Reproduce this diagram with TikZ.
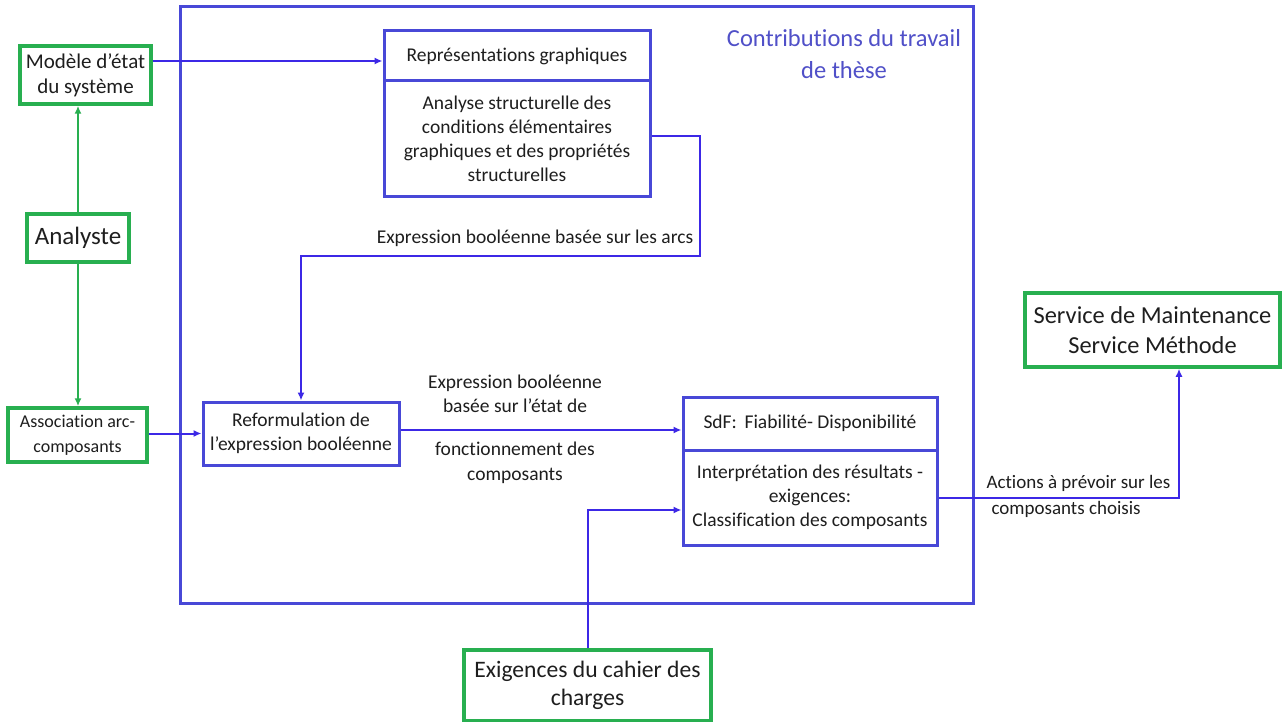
\documentclass[tikz,border=0pt]{standalone}
\usepackage{fontspec}
\setmainfont{Carlito}[Ligatures={NoCommon}]
\usetikzlibrary{arrows.meta,calc}
\definecolor{bblue}{RGB}{72,72,215}
\definecolor{lblue}{RGB}{60,40,230}
\definecolor{tblue}{RGB}{80,80,200}
\definecolor{ggreen}{RGB}{40,175,80}
\definecolor{txt}{RGB}{30,30,30}
\tikzset{
  bbox/.style={draw=bblue,line width=3pt,inner sep=2pt,align=center,text=txt,font=\fontsize{19.5}{24}\selectfont},
  gbox/.style={draw=ggreen,line width=3.5pt,inner sep=2pt,align=center,text=txt},
  conn/.style={draw=lblue,line width=2pt},
  barrow/.style={conn,-{Latex[length=8pt,width=7pt]}},
  garrow/.style={draw=ggreen,line width=2pt,-{Latex[length=8pt,width=7pt]}},
  lbl/.style={text=txt,align=center,font=\fontsize{19.5}{24.5}\selectfont},
  slbl/.style={text=txt,align=left,font=\fontsize{19}{27}\selectfont,anchor=west}
}
\begin{document}
\begin{tikzpicture}[x=1pt,y=-1pt]
\useasboundingbox (0,0) rectangle (1283,722);
\fill[white] (0,0) rectangle (1283,722);
% outer frame
\draw[bblue,line width=3pt] (180,7) rectangle (973,603);
\node[text=tblue,align=center,font=\fontsize{24.5}{32}\selectfont] (contrib) at (844,54) {Contributions du travail\\de thèse};
% green boxes
\node[gbox,minimum width=131,minimum height=58,font=\fontsize{21}{25}\selectfont] (modele) at (85.5,75) {Modèle d’état\\du système};
\node[gbox,minimum width=102,minimum height=48,font=\fontsize{25}{28}\selectfont] (analyste) at (78,238) {Analyste};
\node[gbox,minimum width=139,minimum height=54,font=\fontsize{18}{25}\selectfont] (assoc) at (77.5,435) {Association arc-\\composants};
\node[gbox,minimum width=255,minimum height=74,font=\fontsize{24.4}{30}\selectfont] (service) at (1152.5,330) {Service de Maintenance\\Service Méthode};
\node[gbox,minimum width=247,minimum height=71,font=\fontsize{23.6}{28}\selectfont] (exig) at (587.5,685.5) {Exigences du cahier des\\charges};
% blue boxes
\node[bbox,minimum width=266,minimum height=50] (repr) at (517,56) {Représentations graphiques};
\node[bbox,minimum width=266,minimum height=116] (reprb) at (517,139) {Analyse structurelle des\\conditions élémentaires\\graphiques et des propriétés\\structurelles};
\node[bbox,minimum width=196,minimum height=63] (reform) at (301,433.5) {Reformulation de\\l’expression booléenne};
\node[bbox,minimum width=254,minimum height=53] (sdf) at (810,423.5) {SdF:\, Fiabilité- Disponibilité};
\node[bbox,minimum width=254,minimum height=95] (sdfb) at (810,497.5) {Interprétation des résultats -\\exigences:\\Classification des composants};
% labels
\node[lbl] (l1) at (535,238) {Expression booléenne basée sur les arcs};
\node[lbl] (l2) at (515,394) {Expression booléenne\\basée sur l’état de};
\node[lbl] (l3) at (515,463) {fonctionnement des\\composants};
\node[slbl] (l4) at (983,483) {Actions à prévoir sur les};
\node[slbl] (l5) at (988,509) {composants choisis};
% connectors
\coordinate (c1) at (700,256);
\coordinate (c2) at (1179,498);
\coordinate (c3) at (586,510);
\draw[barrow] (modele.east |- 0,61) -- (repr.west |- 0,61);
\draw[garrow] (analyste.north) -- (analyste.north |- modele.south);
\draw[garrow] (analyste.south) -- (analyste.south |- assoc.north);
\draw[barrow] (assoc.east |- reform.west) -- (reform.west);
\draw[barrow] (reprb.east |- 0,136) -| (c1) -| (reform.north);
\draw[barrow] (reform.east |- 0,430) -- (sdf.west |- 0,430);
\draw[barrow] (exig.north) |- (sdfb.west |- c3);
\draw[barrow] (sdfb.east |- c2) -| (service.south -| c2);
\end{tikzpicture}
\end{document}
